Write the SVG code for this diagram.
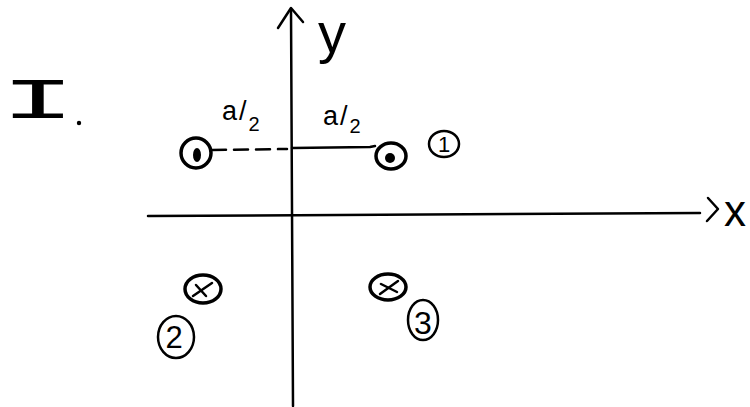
<svg xmlns="http://www.w3.org/2000/svg" width="750" height="407" viewBox="0 0 750 407">
<style>
.ln{fill:none;stroke:#000;stroke-width:2.5;stroke-linecap:round;stroke-linejoin:round}
.ring{fill:none;stroke:#000;stroke-width:3.5}
.txt{font-family:"Liberation Sans",Arial,sans-serif;fill:#000}
.mono{font-family:"Liberation Mono","Courier New",monospace;fill:#000}
</style>
<rect width="750" height="407" fill="#fff"/>
<g id="title">
<text class="mono" x="0" y="0" font-size="48" text-anchor="middle" transform="translate(38,118) scale(2.6,1.2)">I</text>
<circle cx="79" cy="123" r="2.2" fill="#000"/>
</g>
<g id="connectors">
<line class="ln" x1="291" y1="9" x2="293" y2="406"/>
<polyline class="ln" points="278,28 291,8 303,22"/>
<line class="ln" x1="148" y1="216" x2="700" y2="213"/>
<polyline class="ln" points="708,198 718,209 707,221"/>
<line class="ln" x1="212" y1="150" x2="287" y2="149" stroke-dasharray="14,8"/>
<polyline class="ln" points="292,148 370,147 375,146"/>
</g>
<g id="axis-labels">
<text class="txt" x="318" y="52" font-size="56">y</text>
<text class="txt" x="724" y="226" font-size="44">x</text>
</g>
<g id="labels">
<text class="txt" x="222" y="120" font-size="27" letter-spacing="2">a/<tspan dy="11" font-size="20">2</tspan></text>
<text class="txt" x="323" y="125" font-size="27" letter-spacing="2">a/<tspan dy="8" font-size="20">2</tspan></text>
</g>
<g id="charge-left-top">
<ellipse class="ring" cx="196" cy="153" rx="15" ry="15"/>
<ellipse cx="197" cy="155" rx="4" ry="7" fill="#000"/>
</g>
<g id="charge-1">
<ellipse class="ring" cx="391" cy="156" rx="15" ry="13"/>
<ellipse cx="390" cy="158" rx="5" ry="5" fill="#000"/>
</g>
<g id="label-1">
<ellipse class="ln" cx="444" cy="144" rx="15" ry="13"/>
<text class="txt" x="444" y="152" font-size="22" text-anchor="middle">1</text>
</g>
<g id="charge-2">
<ellipse class="ring" cx="203" cy="289" rx="18" ry="14"/>
<line class="ln" x1="193" y1="296" x2="212" y2="283"/>
<line class="ln" x1="196" y1="285" x2="206" y2="296"/>
</g>
<g id="label-2">
<ellipse class="ln" cx="176" cy="337" rx="18" ry="21"/>
<text class="txt" x="174" y="348" font-size="31" text-anchor="middle">2</text>
</g>
<g id="charge-3">
<ellipse class="ring" cx="388" cy="287" rx="18" ry="13"/>
<line class="ln" x1="380" y1="294" x2="398" y2="281"/>
<line class="ln" x1="381" y1="284" x2="397" y2="292"/>
</g>
<g id="label-3">
<ellipse class="ln" cx="423" cy="320" rx="15" ry="20"/>
<text class="txt" x="423" y="334" font-size="32" text-anchor="middle">3</text>
</g>
</svg>
